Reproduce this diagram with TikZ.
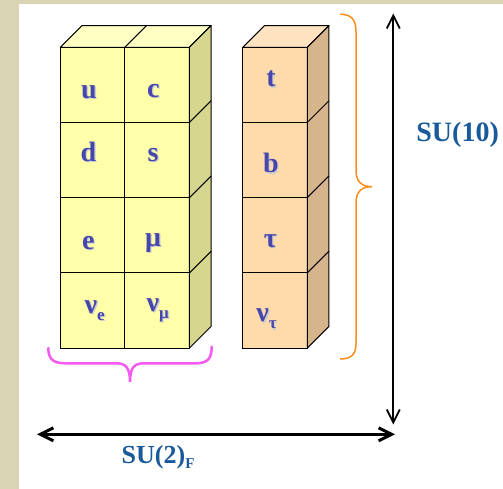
\documentclass[tikz,border=0pt]{standalone}
\usepackage{fontspec}
\setmainfont{Liberation Serif}
\usetikzlibrary{arrows.meta,calc}
\definecolor{bgbeige}{RGB}{216,212,180}
\definecolor{yfront}{RGB}{255,255,170}
\definecolor{ytopc}{RGB}{255,255,196}
\definecolor{ysidec}{RGB}{214,214,142}
\definecolor{ofront}{RGB}{255,218,170}
\definecolor{otopc}{RGB}{255,226,192}
\definecolor{osidec}{RGB}{214,181,140}
\definecolor{labblue}{RGB}{70,70,175}
\definecolor{sublue}{RGB}{25,90,155}
\definecolor{bracepink}{RGB}{245,90,240}
\definecolor{braceorange}{RGB}{255,140,30}
\definecolor{shadowgray}{RGB}{205,205,205}
\newcommand{\lsub}[1]{\raisebox{-7pt}{\fontsize{17}{17}\selectfont #1}}
\newcommand{\lab}[4][base]{%
  \node[labshadow, anchor=#1] (#2s) at ($(#3)+(1.3,1.3)$) {#4};
  \node[lab, anchor=#1] (#2) at (#3) {#4};}
\begin{document}
\begin{tikzpicture}[x=1pt,y=-1pt,
  cell/.style={rectangle, draw=black, line width=1pt, inner sep=0pt, outer sep=0pt,
    minimum width=64.5pt, minimum height=75.2pt},
  ycell/.style={cell, fill=yfront},
  ocell/.style={cell, fill=ofront},
  face/.style={draw=black, line width=1pt, line join=round},
  edge/.style={draw=black, line width=1pt},
  lab/.style={text=labblue, font=\fontsize{28}{28}\selectfont\bfseries, inner sep=0pt},
  labshadow/.style={lab, text=shadowgray},
  sulab/.style={text=sublue, font=\fontsize{28}{28}\selectfont\bfseries, inner sep=0pt},
  dimarrow/.style={draw=black, {Straight Barb[length=13pt,width=13pt]}-{Straight Barb[length=13pt,width=13pt]}},
]
\useasboundingbox (0,0) rectangle (503,489);
\fill[bgbeige] (0,0) rectangle (503,489);
\fill[white] (19,4) rectangle (503,489);

% front cells
\node[ycell] (cu)   at (92.65,84.9)  {};
\node[ycell] (cc)   at (157.15,84.9) {};
\node[ycell] (cd)   at (92.65,160.1) {};
\node[ycell] (cs)   at (157.15,160.1) {};
\node[ycell] (ce)   at (92.65,235.3) {};
\node[ycell] (cmu)  at (157.15,235.3) {};
\node[ycell] (cne)  at (92.65,310.5) {};
\node[ycell] (cnm)  at (157.15,310.5) {};
\node[ocell] (ct)   at (275,84.9)  {};
\node[ocell] (cb)   at (275,160.1) {};
\node[ocell] (ctau) at (275,235.3) {};
\node[ocell] (cnt)  at (275,310.5) {};

% yellow block faces
\path[face, fill=ytopc] (cu.north west) -- ++(21.7,-21.7) -- ($(cc.north east)+(21.7,-21.7)$) -- (cc.north east) -- cycle;
\draw[edge] (cu.north east) -- ++(21.7,-21.7);
\path[face, fill=ysidec] (cc.north east) -- ++(21.7,-21.7) -- ($(cnm.south east)+(21.7,-21.7)$) -- (cnm.south east) -- cycle;
\draw[edge] (cc.south east) -- ++(21.7,-21.7);
\draw[edge] (cs.south east) -- ++(21.7,-21.7);
\draw[edge] (cmu.south east) -- ++(21.7,-21.7);

% orange block faces
\path[face, fill=otopc] (ct.north west) -- ++(21.7,-21.7) -- ($(ct.north east)+(21.7,-21.7)$) -- (ct.north east) -- cycle;
\path[face, fill=osidec] (ct.north east) -- ++(21.7,-21.7) -- ($(cnt.south east)+(21.7,-21.7)$) -- (cnt.south east) -- cycle;
\draw[edge] (ct.south east) -- ++(21.7,-21.7);
\draw[edge] (cb.south east) -- ++(21.7,-21.7);
\draw[edge] (ctau.south east) -- ++(21.7,-21.7);

% labels
\lab{lu}{89,98.3}{u}
\lab{lc}{153.3,97.5}{c}
\lab{ld}{88.3,161.7}{d}
\lab{ls}{153,161.7}{s}
\lab{le}{88.3,249}{e}
\lab{lmu}{153,246}{μ}
\lab[base west]{lne}{84.5,313}{ν\lsub{e}}
\lab[base west]{lnm}{146.5,311.5}{ν\lsub{μ}}
\lab{lt}{271,87}{t}
\lab{lb}{270.8,173}{b}
\lab{ltau}{270.3,247}{τ}
\lab[base west]{lnt}{256.2,321.7}{ν\lsub{τ}}

% braces
\draw[bracepink, line width=2.5pt, line cap=round]
  (48.3,348) .. controls (48.3,360) and (54,363.3) .. (66,363.3) -- (116,363.3)
  .. controls (126,363.3) and (130,368) .. (130,381.7)
  .. controls (130,368) and (134,363.3) .. (144,363.3) -- (196,363.3)
  .. controls (208,363.3) and (211.7,358) .. (211.7,346.7);
\draw[braceorange, line width=1.5pt]
  (340,14.3) .. controls (352,14.3) and (356,20) .. (356,32) -- (356,170)
  .. controls (356,182) and (362,186.7) .. (372,186.7)
  .. controls (362,186.7) and (356,191) .. (356,203) -- (356,343)
  .. controls (356,354) and (352,359) .. (340,359);

% dimension arrows
\coordinate (vtop) at (393.3,13.5);
\coordinate (vbot) at (393.3,424.5);
\coordinate (hl) at (37,434.3);
\coordinate (hr) at (395,434.3);
\draw[dimarrow, line width=1.8pt] (vtop) -- (vbot);
\draw[dimarrow, line width=3pt] (hl) -- (hr);

\node[sulab, anchor=base west] (su10) at (416.2,142) {SU(10)};
\node[sulab, anchor=base west, font=\fontsize{26}{26}\selectfont\bfseries] (su2) at (121.5,463.5) {SU(2)\raisebox{-5pt}{\fontsize{15}{15}\selectfont F}};
\end{tikzpicture}
\end{document}
